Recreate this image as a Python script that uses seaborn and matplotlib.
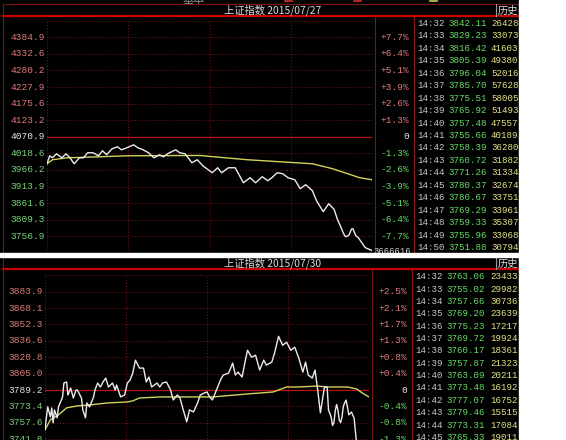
import matplotlib
matplotlib.use("Agg")
import matplotlib.pyplot as plt
from matplotlib.patches import Rectangle
import seaborn as sns

# ---- 2015/07/27 ----
d1_title = "上证指数 2015/07/27"
d1_base = 4070.9
d1_left = ["4384.9", "4332.6", "4280.2", "4227.9", "4175.6", "4123.2", "4070.9",
           "4018.6", "3966.2", "3913.9", "3861.6", "3809.3", "3756.9"]
d1_right = ["+7.7%", "+6.4%", "+5.1%", "+3.9%", "+2.6%", "+1.3%", "0",
            "-1.3%", "-2.6%", "-3.9%", "-5.1%", "-6.4%", "-7.7%"]
d1_min = [0, 2, 4, 7, 11, 14, 17, 20, 24, 27, 30, 34, 38, 41, 44, 48, 52, 55, 59, 64,
          67, 71, 75, 79, 83, 86, 89, 95, 98, 102, 107, 111, 115, 122, 126, 129, 134, 139, 145, 150,
          154, 159, 163, 166, 170, 174, 178, 183, 187, 191, 196, 199, 204, 208]
d1_price = [3985.8, 4011.0, 4004.7, 4017.3, 4004.7, 4017.3, 4004.7, 3985.8, 4004.7, 4004.7,
            4020.5, 4020.5, 4011.0, 4026.8, 4014.2, 4033.1, 4039.4, 4029.9, 4036.3, 4045.7,
            4036.3, 4029.9, 4020.5, 4004.7, 4014.2, 4007.9, 4017.3, 4029.9, 4020.5, 4017.3,
            3989.0, 3998.5, 3979.6, 3957.5, 3973.2, 3957.5, 3973.2, 3973.2, 3926.0, 3941.7,
            3926.0, 3944.9, 3932.3, 3941.7, 3957.5, 3954.4, 3941.7, 3935.4, 3907.1, 3919.7,
            3900.8, 3869.3, 3834.6, 3859.8]
d1_tail_min = [235, 240]
d1_tail_price = [3721.2, 3712.0]
d1_avg_min = [0, 4, 15, 39, 59, 113, 123, 148, 172, 196, 211, 222, 231, 240]
d1_avg = [3985.8, 3998.5, 4004.7, 4007.9, 4011.0, 4012.0, 4007.9, 3998.5, 3992.2, 3985.8,
          3970.1, 3954.4, 3941.7, 3935.4]
d1_times = ["14:32", "14:33", "14:34", "14:35", "14:36", "14:37", "14:38", "14:39", "14:40", "14:41",
            "14:42", "14:43", "14:44", "14:45", "14:46", "14:47", "14:48", "14:49", "14:50"]
d1_last = [3842.11, 3829.23, 3816.42, 3805.39, 3796.04, 3785.70, 3775.51, 3765.92, 3757.48, 3755.66,
           3758.39, 3760.72, 3771.26, 3780.37, 3780.67, 3769.29, 3759.33, 3755.96, 3751.88]
d1_vol = ["26428", "33073", "41603", "49380", "52016", "57628", "58005", "51493", "47557", "40189",
          "36280", "31882", "31334", "32674", "33751", "33961", "35307", "33068", "30794"]

# ---- 2015/07/30 ----
d2_title = "上证指数 2015/07/30"
d2_base = 3789.2
d2_left = ["3883.9", "3868.1", "3852.3", "3836.6", "3820.8", "3805.0", "3789.2",
           "3773.4", "3757.6", "3741.8"]
d2_right = ["+2.5%", "+2.1%", "+1.7%", "+1.3%", "+0.8%", "+0.4%", "0",
            "-0.4%", "-0.8%", "-1.3%"]
d2_min = [0, 1, 2, 4, 5, 6, 7, 9, 10, 13, 14, 16, 17, 19, 21, 23, 24, 27, 28, 30,
          31, 33, 36, 37, 39, 41, 43, 45, 47, 50, 52, 53, 56, 59, 61, 63, 65, 67, 70, 73,
          75, 77, 79, 81, 83, 85, 87, 90, 93, 95, 98, 100, 102, 105, 107, 110, 113, 115, 118, 120,
          122, 124, 127, 130, 132, 136, 139, 141, 143, 146, 148, 150, 153, 156, 159, 162, 164, 168, 170, 173,
          176, 179, 182, 185, 188, 191, 193, 195, 198, 200, 202, 204, 207, 209, 210]
d2_price = [3750.9, 3762.4, 3772.9, 3763.3, 3771.9, 3757.6, 3770.0, 3762.4, 3772.9, 3782.5,
            3795.9, 3796.9, 3784.4, 3791.1, 3781.5, 3789.2, 3789.2, 3781.5, 3770.0, 3762.4,
            3776.7, 3772.9, 3782.5, 3789.2, 3795.9, 3792.1, 3796.9, 3800.7, 3792.1, 3795.9,
            3789.2, 3794.0, 3782.5, 3784.4, 3795.9, 3798.8, 3805.5, 3817.9, 3810.3, 3810.3,
            3796.9, 3801.7, 3792.1, 3794.0, 3795.9, 3792.1, 3795.9, 3796.9, 3789.2, 3779.6,
            3784.4, 3781.5, 3771.9, 3758.5, 3770.0, 3768.1, 3776.7, 3784.4, 3786.3, 3787.3,
            3782.5, 3779.6, 3789.2, 3798.8, 3803.6, 3805.5, 3815.1, 3803.6, 3806.4, 3801.7,
            3815.1, 3827.5, 3820.8, 3822.7, 3808.4, 3817.9, 3813.2, 3816.0, 3824.6, 3840.9,
            3832.3, 3835.2, 3827.5, 3830.4, 3819.9, 3806.4, 3816.0, 3803.6, 3800.7, 3808.4,
            3789.2, 3767.2, 3792.1, 3792.1, 3770.0]
d2_tail_min = [227, 229, 231, 236, 240]
d2_tail_price = [3768.0, 3762.0, 3735.0, 3715.0, 3705.8]
d2_avg_min = [0, 4, 10, 16, 24, 33, 46, 61, 65, 70, 85, 115, 124, 150, 169, 179, 187, 202,
              209, 224, 231, 235, 240]
d2_avg = [3750.9, 3760.5, 3765.3, 3772.0, 3773.9, 3774.8, 3776.7, 3777.7, 3778.7, 3781.5,
          3782.5, 3782.5, 3782.5, 3785.4, 3787.3, 3792.1, 3792.1, 3793.0, 3792.1, 3792.1,
          3790.2, 3786.3, 3782.5]
d2_times = ["14:32", "14:33", "14:34", "14:35", "14:36", "14:37", "14:38", "14:39", "14:40",
            "14:41", "14:42", "14:43", "14:44", "14:45"]
d2_last = [3763.06, 3755.02, 3757.66, 3769.20, 3775.23, 3769.72, 3760.17, 3757.87, 3763.09,
           3773.48, 3777.07, 3779.46, 3773.31, 3765.33]
d2_vol = ["23433", "29982", "30736", "23639", "17217", "19924", "18361", "21323", "20211",
          "16192", "16752", "15515", "17084", "19011"]

W, H = 566, 440
CJK = ["Noto Sans CJK SC", "DejaVu Sans"]
MONO = ["Liberation Mono", "DejaVu Sans Mono"]
DARK = "#7a1616"
RED_TXT, GRN_TXT, WHT_TXT = "#e07a7a", "#6ad66a", "#e6e6e6"

fig = plt.figure(figsize=(W / 100, H / 100), dpi=100)
bg = fig.add_axes([0, 0, 1, 1])
bg.set_xlim(0, W)
bg.set_ylim(H, 0)
bg.axis("off")


def minute_of(t):
    h, m = t.split(":")
    return (int(h) - 13) * 60 + int(m) + 120


def panel(top, bottom, title, base, left, right, head_min, head_price, tail_min, tail_price,
          avg_min, avg, times, last, vol, box, row0, row_step, cols, lab_x):
    x0, x1, y_top, y_bot = box
    bg.add_patch(Rectangle((0, top), 519, bottom - top, color="black", zorder=0))
    # title bar
    bg.add_patch(Rectangle((3, top), 516, 12, fill=False, ec=DARK, lw=0.8, zorder=1))
    bg.plot([3, 519], [top + 12.5, top + 12.5], color="#c80000", lw=1.6, zorder=2)
    bg.text(273, top + 6.3, title, family=CJK, fontsize=7.4, color="#dcdcdc",
            ha="center", va="center", zorder=3)
    bg.plot([496, 496], [top, top + 12], color="#9a9a9a", lw=0.8, zorder=2)
    bg.text(498, top + 6.5, "历史", family=CJK, fontsize=7.4, color="#dcdcdc",
            ha="left", va="center", zorder=3)
    # frame lines
    bg.plot([3, 3], [top + 12, bottom], color=DARK, lw=0.8, zorder=1)
    bg.plot([x1 + 2.5, x1 + 2.5], [top + 13, bottom], color=DARK, lw=0.8, zorder=1)
    bg.plot([cols[0] - 3.5, cols[0] - 3.5], [top + 13, bottom], color="#8c1a1a", lw=0.9, zorder=1)
    # table
    for i, t in enumerate(times):
        y = row0 + i * row_step
        bg.text(cols[0], y, t, family=MONO, fontsize=6.6, color="#c8c8c8", va="center", zorder=3)
        bg.text(cols[1], y, f"{last[i]:.2f}", family=MONO, fontsize=6.6, color="#66dc66",
                va="center", zorder=3)
        bg.text(cols[2], y, vol[i], family=MONO, fontsize=6.6, color="#e4e48a", va="center", zorder=3)

    # chart
    step = (float(left[0]) - float(left[-1])) / (len(left) - 1)
    ax = fig.add_axes([x0 / W, 1 - y_bot / H, (x1 - x0) / W, (y_bot - y_top) / H])
    ax.set_facecolor("none")
    ax.set_xlim(0, 240)
    ax.set_ylim(base - 7 * step, base + 7 * step)
    ax.axis("off")
    levels = [base + k * step for k in range(-7, 8)]
    for v in levels:
        if abs(v - base) < 1e-6:
            ax.axhline(v, color="#b41414", lw=0.9)
        else:
            ax.axhline(v, color=DARK, lw=0.7, ls=(0, (1, 2)))
    for m in [0, 60, 120, 180, 240]:
        ax.axvline(m, color=DARK, lw=0.7, ls=(0, (1, 2)))

    line_min = head_min + [minute_of(t) for t in times] + tail_min
    line_price = head_price + last + tail_price
    sns.lineplot(x=avg_min, y=avg, ax=ax, color="#d2d25a", lw=1.0, estimator=None)
    sns.lineplot(x=line_min, y=line_price, ax=ax, color="#ececec", lw=1.0, estimator=None)

    tr = ax.get_yaxis_transform()
    for lab_l, lab_r in zip(left, right):
        v = float(lab_l)
        if abs(v - base) < 0.05:
            cl, cr = WHT_TXT, WHT_TXT
        elif v > base:
            cl, cr = RED_TXT, RED_TXT
        else:
            cl, cr = "#7ad27a", GRN_TXT
        ax.text(lab_x[0], v, lab_l, transform=tr, ha="right", va="center", family=MONO,
                fontsize=6.8, color=cl, clip_on=False)
        ax.text(lab_x[1], v, lab_r, transform=tr, ha="right", va="center", family=MONO,
                fontsize=6.8, color=cr, clip_on=False)
    return ax


panel(4, 253, d1_title, d1_base, d1_left, d1_right, d1_min, d1_price, d1_tail_min, d1_tail_price,
      d1_avg_min, d1_avg, d1_times, d1_last, d1_vol,
      box=(47, 372, 20.7, 252.9), row0=23.3, row_step=12.47, cols=(417, 448, 491),
      lab_x=(-0.006, 1.114))
panel(257, 440, d2_title, d2_base, d2_left, d2_right, d2_min, d2_price, d2_tail_min, d2_tail_price,
      d2_avg_min, d2_avg, d2_times, d2_last, d2_vol,
      box=(45, 369, 275.2, 504.8), row0=276.7, row_step=12.36, cols=(415.5, 446, 490.5),
      lab_x=(-0.006, 1.117))

# strip of the window above the first panel
bg.add_patch(Rectangle((0, 0), 519, 4, color="black", zorder=0))
bg.text(194, 0.5, "基本", family=CJK, fontsize=8, color="#9a9a9a", ha="center", va="center", zorder=1)
bg.plot([285, 292], [1.5, 1.5], color="#d03030", lw=1.2, zorder=1)
bg.plot([354, 361], [1.5, 1.5], color="#d03030", lw=1.2, zorder=1)
bg.plot([430, 437], [1.5, 1.5], color="#c8c850", lw=1.2, zorder=1)
bg.text(373, 252, "3666616", family=MONO, fontsize=6.4, color="#cfcfcf", va="center", zorder=1)

# white page around the screenshot pieces
bg.add_patch(Rectangle((519, 0), W - 519, H, color="white", zorder=10))
bg.add_patch(Rectangle((0, 253), W, 4, color="white", zorder=10))

fig.savefig("out.png", dpi=100, facecolor="white")
